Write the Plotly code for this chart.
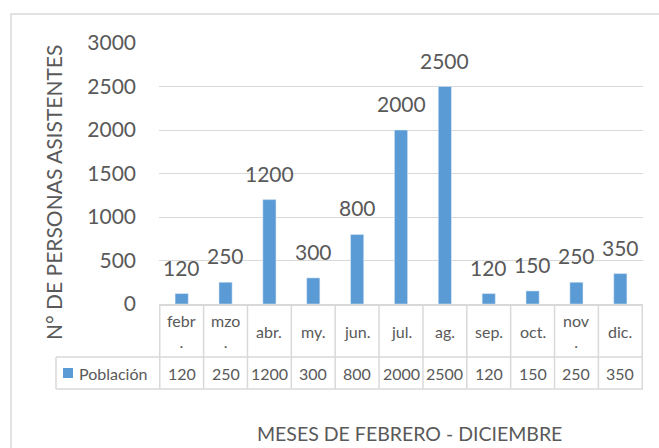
import plotly.graph_objects as go

# ---- data ----
categories = ["febr.", "mzo.", "abr.", "my.", "jun.", "jul.", "ag.", "sep.", "oct.", "nov.", "dic."]
table_labels = ["febr<br>.", "mzo<br>.", "abr.", "my.", "jun.", "jul.", "ag.", "sep.", "oct.", "nov<br>.", "dic."]
poblacion = [120, 250, 1200, 300, 800, 2000, 2500, 120, 150, 250, 350]
series_name = "Población"
y_ticks = [0, 500, 1000, 1500, 2000, 2500, 3000]

W, H = 659, 448
L, R, T, B = 159, 643, 43, 304
BAR = "#5B9BD5"
TXT = "#595959"
GRID = "#D9D9D9"
FONT = "Lato"


def px2x(px):
    return (px - L) / (R - L)


def py2y(py):
    return (B - py) / (B - T)


fig = go.Figure()
fig.add_trace(go.Bar(x=categories, y=poblacion, marker_color=BAR, name=series_name,
                     hoverinfo="x+y"))

shapes = []
annotations = []

# data labels
for c, v in zip(categories, poblacion):
    annotations.append(dict(x=c, y=v, xref="x", yref="y", text=str(v), showarrow=False,
                            xanchor="center", yanchor="bottom", yshift=12,
                            font=dict(size=21, color=TXT, family=FONT)))

# data table
row1_bot = py2y(357)
row2_bot = py2y(389)
line = dict(color=GRID, width=1.5)
n = len(categories)
for i in range(n + 1):
    shapes.append(dict(type="line", xref="x", yref="paper", x0=i - 0.5, x1=i - 0.5,
                       y0=0, y1=row2_bot, line=line))
shapes.append(dict(type="line", xref="paper", yref="paper", x0=px2x(56), x1=1,
                   y0=row1_bot, y1=row1_bot, line=line))
shapes.append(dict(type="line", xref="paper", yref="paper", x0=px2x(56), x1=1,
                   y0=row2_bot, y1=row2_bot, line=line))
shapes.append(dict(type="line", xref="paper", yref="paper", x0=px2x(56), x1=px2x(56),
                   y0=row1_bot, y1=row2_bot, line=line))
# legend key
shapes.append(dict(type="rect", xref="paper", yref="paper", x0=px2x(63), x1=px2x(73),
                   y0=py2y(378), y1=py2y(368), fillcolor=BAR, line=dict(width=0)))
# outer chart border
shapes.append(dict(type="rect", xref="paper", yref="paper", x0=px2x(11), x1=px2x(680),
                   y0=py2y(470), y1=py2y(14), line=dict(color=GRID, width=1.5)))

row1_mid = py2y(331)
row2_mid = py2y(373)
for c, lab, v in zip(categories, table_labels, poblacion):
    annotations.append(dict(x=c, y=row1_mid, xref="x", yref="paper", text=lab, showarrow=False,
                            xanchor="center", yanchor="middle",
                            font=dict(size=16, color=TXT, family=FONT)))
    annotations.append(dict(x=c, y=row2_mid, xref="x", yref="paper", text=str(v), showarrow=False,
                            xanchor="center", yanchor="middle",
                            font=dict(size=16, color=TXT, family=FONT)))
annotations.append(dict(x=px2x(77), y=row2_mid, xref="paper", yref="paper", text=series_name,
                        showarrow=False, xanchor="left", yanchor="middle",
                        font=dict(size=16, color=TXT, family=FONT)))

# axis titles
annotations.append(dict(x=px2x(409), y=py2y(447), xref="paper", yref="paper",
                        text="MESES DE FEBRERO - DICIEMBRE", showarrow=False,
                        xanchor="center", yanchor="bottom",
                        font=dict(size=19.5, color=TXT, family=FONT)))
annotations.append(dict(x=px2x(53), y=py2y(193), xref="paper", yref="paper",
                        text="N° DE PERSONAS ASISTENTES", showarrow=False, textangle=-90,
                        xanchor="center", yanchor="middle",
                        font=dict(size=21, color=TXT, family=FONT)))

fig.update_layout(
    width=W, height=H,
    margin=dict(l=L, r=W - R, t=T, b=H - B),
    paper_bgcolor="white", plot_bgcolor="white",
    showlegend=False, bargap=0.7,
    font=dict(family=FONT, color=TXT),
    shapes=shapes, annotations=annotations,
    xaxis=dict(showticklabels=False, showgrid=False, ticks="", showline=True,
               linecolor=GRID, linewidth=1.5, fixedrange=True),
    yaxis=dict(range=[0, 3000], tickvals=y_ticks, showgrid=True, gridcolor=GRID, gridwidth=1.3,
               zeroline=False, showline=False, ticks="", ticklabelstandoff=22,
               tickfont=dict(size=21, color=TXT, family=FONT), fixedrange=True),
)

fig.write_html("out.html", config={"displayModeBar": False},
               post_script="document.body.style.margin='0';document.body.style.overflow='hidden';")
